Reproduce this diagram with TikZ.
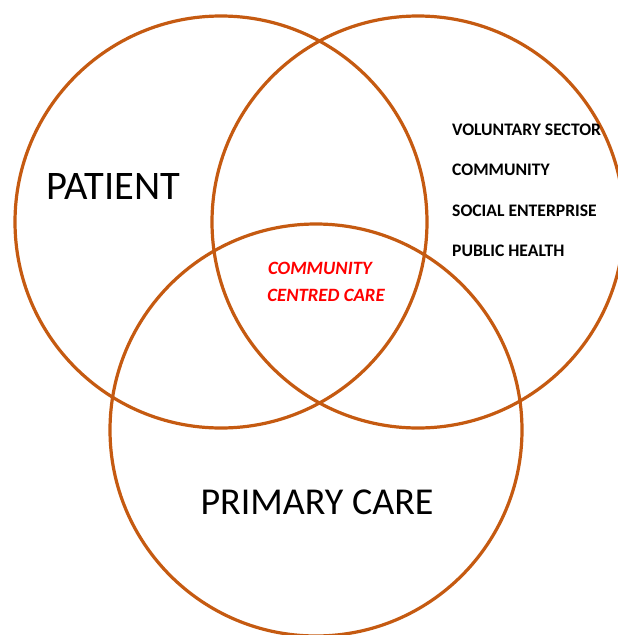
\documentclass[tikz,border=0pt]{standalone}
\usepackage{fontspec}
\setmainfont{Carlito}
\begin{document}
\begin{tikzpicture}[x=1pt,y=-1pt,
  ring/.style={draw=ringcol,line width=3.2pt},
  bigtitle/.style={text=black,inner sep=0pt},
  sector/.style={font=\bfseries\fontsize{17.6}{20}\selectfont,text=black,anchor=west,inner sep=0pt},
  core/.style={font=\bfseries\itshape\fontsize{18.8}{21}\selectfont,text=red,inner sep=0pt}]
\definecolor{ringcol}{RGB}{197,90,17}
\useasboundingbox (0,0) rectangle (618,635);
% three overlapping circles
\draw[ring] (221,222) circle (206);
\draw[ring] (418,222) circle (206);
\draw[ring] (316,430) circle (206);
% circle titles
\node[bigtitle,font=\fontsize{40.5}{44}\selectfont] (patient) at (113,187) {PATIENT};
\node[bigtitle,font=\fontsize{38}{42}\selectfont] (primary) at (317,502) {PRIMARY CARE};
% sectors on the right
\node[sector] (vol) at (452,130) {VOLUNTARY SECTOR};
\node[sector] (com) at (452,170) {COMMUNITY};
\node[sector] (soc) at (452,211) {SOCIAL ENTERPRISE};
\node[sector] (pub) at (452,251) {PUBLIC HEALTH};
% centre overlap
\node[core] (ccc1) at (320,268) {COMMUNITY};
\node[core] (ccc2) at (326,295) {CENTRED CARE};
\end{tikzpicture}
\end{document}
